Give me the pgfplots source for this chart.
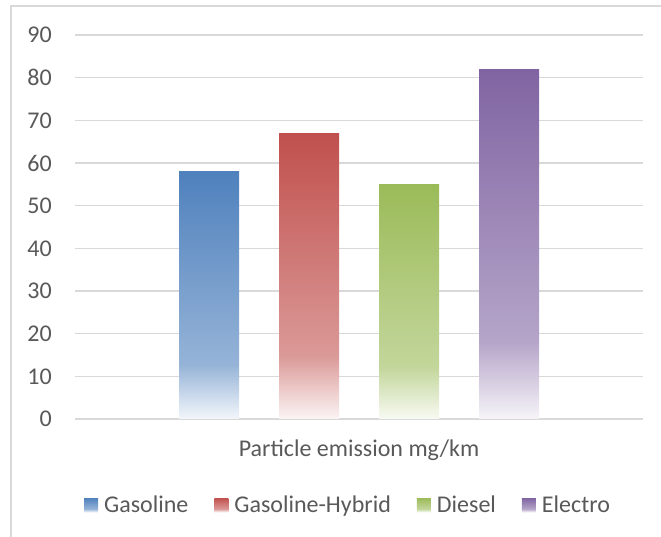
\documentclass[border=0pt]{standalone}
\usepackage{pgfplots}
\pgfplotsset{compat=1.18}
\usepackage{fontspec}
\setmainfont{Carlito}

\definecolor{textC}{HTML}{595959}
\definecolor{gridC}{HTML}{D9D9D9}
\definecolor{gasC}{HTML}{4F81BD}
\definecolor{hybC}{HTML}{C0504D}
\definecolor{dieC}{HTML}{9BBB59}
\definecolor{eleC}{HTML}{8064A2}
\colorlet{gasMid}{gasC!60!white}\colorlet{gasLow}{gasC!7!white}
\colorlet{hybMid}{hybC!58!white}\colorlet{hybLow}{hybC!6!white}
\colorlet{dieMid}{dieC!60!white}\colorlet{dieLow}{dieC!7!white}
\colorlet{eleMid}{eleC!58!white}\colorlet{eleLow}{eleC!7!white}

% vertical fades: solid at the top, lighter tint at about a fifth of the height, nearly white at the base
\pgfdeclareverticalshading{gasShade}{100bp}{color(0bp)=(gasLow); color(25bp)=(gasLow); color(36bp)=(gasMid); color(75bp)=(gasC); color(100bp)=(gasC)}
\pgfdeclareverticalshading{hybShade}{100bp}{color(0bp)=(hybLow); color(25bp)=(hybLow); color(36bp)=(hybMid); color(75bp)=(hybC); color(100bp)=(hybC)}
\pgfdeclareverticalshading{dieShade}{100bp}{color(0bp)=(dieLow); color(25bp)=(dieLow); color(36bp)=(dieMid); color(75bp)=(dieC); color(100bp)=(dieC)}
\pgfdeclareverticalshading{eleShade}{100bp}{color(0bp)=(eleLow); color(25bp)=(eleLow); color(36bp)=(eleMid); color(75bp)=(eleC); color(100bp)=(eleC)}

\newcommand\chartfont{\fontsize{24}{29}\selectfont}

\pgfplotsset{
  fadebar/.style={draw=none, shade, shading=#1, bar shift=0pt,
    legend image code/.code={\path[draw=none, shade, shading=#1] (0pt,-7pt) rectangle (14pt,7pt);}},
}

\begin{document}
\begin{tikzpicture}
\useasboundingbox (0,0) rectangle (661pt,537pt);
% chart frame
\draw[gridC, line width=1.2pt] (11pt,0pt) -- (11pt,531pt) -- (662pt,531pt);
\begin{axis}[
  at={(75pt,118pt)}, anchor=south west,
  scale only axis, width=568pt, height=384pt,
  xmin=-2.84, xmax=2.84, ymin=0, ymax=90,
  ytick={0,10,...,90}, xtick=\empty,
  ymajorgrids, grid style={line width=1.2pt, color=gridC},
  axis line style={draw=none},
  major tick length=0pt,
  /pgf/number format/assume math mode=true,
  yticklabel style={font=\chartfont, color=textC, anchor=east, inner sep=0pt, xshift=-23pt},
  ybar, bar width=0.6,
  xlabel={Particle emission mg/km},
  xlabel style={at={(axis description cs:0.5,-0.0807)}, anchor=center, font=\chartfont, color=textC},
  legend columns=4,
  legend style={draw=none, fill=none, at={(0.479,-0.224)}, anchor=center, font=\chartfont, text=textC,
    /tikz/every odd column/.append style={column sep=6pt},
    /tikz/every even column/.append style={column sep=26pt},
    nodes={inner sep=0pt}},
]
\addplot[fadebar=gasShade] coordinates {(-1.5,58)};
\addplot[fadebar=hybShade] coordinates {(-0.5,67)};
\addplot[fadebar=dieShade] coordinates {(0.5,55)};
\addplot[fadebar=eleShade] coordinates {(1.5,82)};
\legend{Gasoline, Gasoline-Hybrid, Diesel, Electro}
\end{axis}
\end{tikzpicture}
\end{document}
